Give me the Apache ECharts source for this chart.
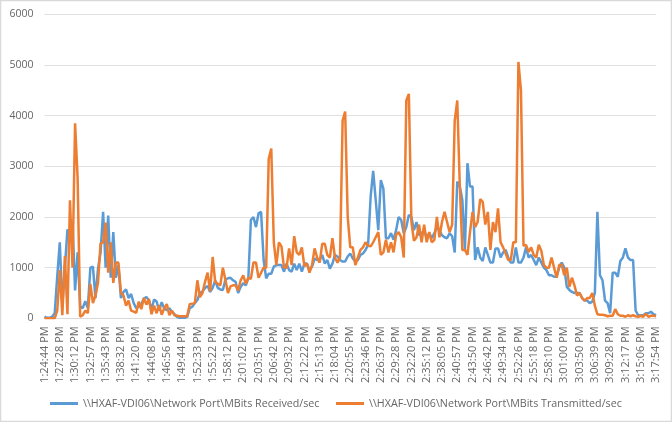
<!DOCTYPE html>
<html>
<head>
<meta charset="utf-8">
<script src="https://cdn.jsdelivr.net/npm/echarts@6/dist/echarts.min.js"></script>
<style>
  html, body { margin: 0; padding: 0; background: #fff; }
  #main { width: 672px; height: 422px; box-sizing: border-box; }
</style>
</head>
<body>
<div id="main"></div>
<script>
// one tick label every 6 samples
var tickLabels = ['1:24:44 PM','1:27:28 PM','1:30:12 PM','1:32:57 PM','1:35:43 PM','1:38:32 PM','1:41:20 PM','1:44:08 PM','1:46:56 PM','1:49:44 PM','1:52:33 PM','1:55:22 PM','1:58:12 PM','2:01:02 PM','2:03:51 PM','2:06:42 PM','2:09:32 PM','2:12:22 PM','2:15:13 PM','2:18:04 PM','2:20:55 PM','2:23:46 PM','2:26:37 PM','2:29:28 PM','2:32:20 PM','2:35:12 PM','2:38:05 PM','2:40:57 PM','2:43:50 PM','2:46:42 PM','2:49:34 PM','2:52:26 PM','2:55:18 PM','2:58:10 PM','3:01:00 PM','3:03:50 PM','3:06:39 PM','3:09:28 PM','3:12:17 PM','3:15:06 PM','3:17:54 PM'];

var receivedName = '\\\\HXAF-VDI06\\Network Port\\MBits Received/sec';
var transmittedName = '\\\\HXAF-VDI06\\Network Port\\MBits Transmitted/sec';

var received = [
  30,10,10,30,100,830,
  1500,250,1000,1750,1700,1900,
  550,1300,230,200,340,200,
  1000,1020,400,980,1300,2100,
  1000,2030,800,1700,800,1050,
  400,520,570,400,480,300,
  200,230,280,390,420,350,
  180,370,330,150,320,190,
  160,200,130,80,30,10,
  10,10,30,200,230,300,
  360,500,530,600,640,520,
  600,750,600,570,560,760,
  790,800,750,720,500,620,
  690,650,790,1940,2000,1800,
  2070,2100,1150,790,880,880,
  1020,1050,1050,1050,920,1080,
  950,920,1080,950,1080,920,
  1080,1080,950,1020,1180,1150,
  1150,1250,1080,1150,980,1080,
  1250,1220,1150,1120,1120,1220,
  1280,1180,1120,1150,1250,1280,
  1350,1450,2400,2910,2330,1740,
  2730,2560,1580,1580,1680,1550,
  1740,2000,1940,1680,1800,2040,
  2000,1740,1900,1640,1680,1740,
  1580,1680,1580,1680,1800,1740,
  1640,1600,1580,1680,1620,1300,
  2700,2600,2330,1350,3060,2600,
  2600,1150,1400,1200,1130,1400,
  1250,1100,1100,1380,1380,1200,
  1300,1350,1200,1100,1100,1400,
  1100,1100,1200,1400,1200,1250,
  1150,1050,1200,1100,1000,950,
  850,850,820,820,1000,1100,
  1000,620,560,520,500,500,
  500,400,350,350,300,330,
  500,2100,850,750,350,300,
  100,900,900,820,1130,1200,
  1380,1200,1150,1150,150,60,
  60,60,100,100,130,80,
  60
];

var transmitted = [
  0,0,0,0,0,150,
  950,60,1230,80,2330,1000,
  3850,2770,30,60,150,100,
  680,300,450,700,1480,1500,
  1890,900,1500,700,1100,1100,
  500,450,250,350,150,130,
  110,330,180,400,270,380,
  80,250,100,260,70,200,
  280,60,150,60,50,40,
  40,40,40,280,290,300,
  750,420,500,720,900,530,
  1210,720,680,650,1000,760,
  500,630,650,650,550,750,
  850,680,800,780,1100,1100,
  800,900,1000,1000,3150,3350,
  1500,1050,1500,1420,1000,1000,
  1380,1050,1620,1300,1250,1400,
  1030,1080,900,1050,1380,1200,
  1100,1470,1470,1250,1200,1580,
  1200,1100,1200,3900,4080,2000,
  1400,1400,1050,1200,1350,1400,
  1500,1430,1420,1500,1600,1700,
  1250,1300,1550,1300,1500,1300,
  1650,1700,1600,1200,4300,4430,
  1900,1530,1600,1850,1500,1850,
  1500,1700,1500,1550,2000,1600,
  1900,2100,1900,1700,1850,3900,
  4300,2600,1350,1350,1250,1700,
  2100,1800,1900,2350,2300,1850,
  2100,1350,1900,1700,2170,1500,
  1400,1280,1150,1150,1500,1500,
  5060,4500,1430,1450,1310,1400,
  1250,1200,1450,1330,1050,1000,
  1000,1200,1000,800,1050,1060,
  850,1000,620,800,650,450,
  500,400,350,400,400,500,
  250,80,70,70,60,40,
  50,50,180,80,50,50,
  30,60,40,60,40,30,
  50,30,90,30,50,50,
  40
];

var categories = [];
for (var i = 0; i < received.length; i++) {
  categories.push(i % 6 === 0 ? tickLabels[i / 6] : '');
}

var myChart = echarts.init(document.getElementById('main'));

var option = {
  animation: false,
  backgroundColor: '#fff',
  color: ['#5B9BD5', '#ED7D31'],
  textStyle: { fontFamily: 'Open Sans' },
  grid: { left: 44.5, right: 16, top: 14.3, bottom: 103.7 },
  // two legends so each entry can sit where it does in the original
  legend: [
    {
      bottom: 13,
      left: 50,
      padding: 0,
      itemWidth: 28,
      itemHeight: 3,
      icon: 'rect',
      textStyle: { color: '#666', fontSize: 10.7 },
      data: [receivedName]
    },
    {
      bottom: 13,
      left: 336,
      padding: 0,
      itemWidth: 28,
      itemHeight: 3,
      icon: 'rect',
      textStyle: { color: '#666', fontSize: 10.7 },
      data: [transmittedName]
    }
  ],
  xAxis: {
    type: 'category',
    boundaryGap: false,
    data: categories,
    axisTick: { show: false },
    axisLine: { lineStyle: { color: '#d9d9d9', width: 1 } },
    axisLabel: {
      interval: 5,
      rotate: 90,
      color: '#666',
      fontSize: 11,
      margin: 8,
      showMinLabel: true,
      showMaxLabel: true
    }
  },
  yAxis: {
    type: 'value',
    min: 0,
    max: 6000,
    interval: 1000,
    axisLine: { show: false },
    axisTick: { show: false },
    splitLine: { lineStyle: { color: '#e0e0e0', width: 1 } },
    axisLabel: {
      color: '#666',
      fontSize: 10.5,
      margin: 11,
      formatter: function(v) { return String(v); }
    }
  },
  series: [
    {
      name: receivedName,
      type: 'line',
      data: received,
      showSymbol: false,
      lineStyle: { width: 2.5 }
    },
    {
      name: transmittedName,
      type: 'line',
      data: transmitted,
      showSymbol: false,
      lineStyle: { width: 2.5 }
    }
  ],
  graphic: [
    {
      type: 'rect',
      silent: true,
      shape: { x: 0.5, y: 0.5, width: 671, height: 421 },
      style: { fill: 'none', stroke: '#d9d9d9', lineWidth: 1.5 }
    }
  ]
};

myChart.setOption(option);
</script>
</body>
</html>
